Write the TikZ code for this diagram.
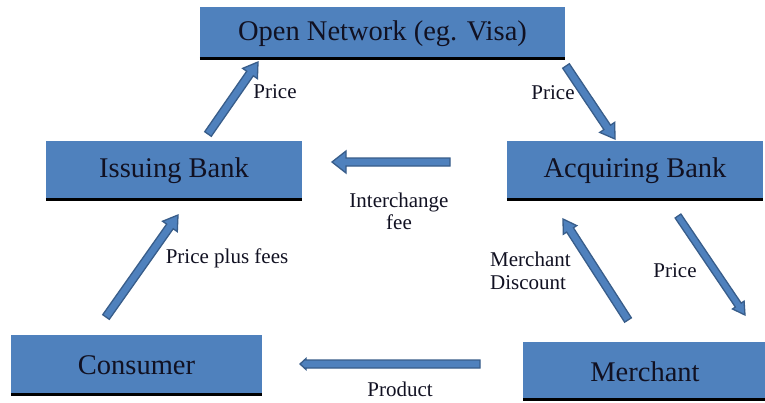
\documentclass[tikz,border=0pt]{standalone}
\usepackage{fontspec}
\setmainfont{Liberation Serif}
\usetikzlibrary{calc}
\definecolor{boxblue}{HTML}{4F81BD}
\definecolor{arrowedge}{HTML}{385D8A}
\definecolor{txt}{HTML}{111122}
\tikzset{
  box/.style={rectangle, fill=boxblue, inner sep=0pt, text=txt,
    font=\fontsize{28.5}{32}\selectfont},
  lbl/.style={text=txt, inner sep=0pt, font=\fontsize{21}{24}\selectfont},
  arrowbody/.style={fill=boxblue, draw=arrowedge, line width=1.3pt, line join=miter},
}
% #1 start, #2 end, #3 half shaft width, #4 half head width, #5 head length
\newcommand\blockarrow[5]{%
  \coordinate (ba-h) at ($(#2)!#5!(#1)$);
  \draw[arrowbody]
    ($(#1)!#3!90:(#2)$) -- ($(ba-h)!#3!-90:(#1)$) -- ($(ba-h)!#4!-90:(#1)$)
    -- (#2) -- ($(ba-h)!#4!90:(#1)$) -- ($(ba-h)!#3!90:(#1)$)
    -- ($(#1)!#3!-90:(#2)$) -- cycle;
}
\begin{document}
\begin{tikzpicture}[x=1pt,y=-1pt]
\useasboundingbox (0,0) rectangle (765,402);
\fill[white] (0,0) rectangle (765,402);
% boxes
\node[box, minimum width=365pt, minimum height=53pt] (open) at (382.5,33.5) {Open Network (eg. Visa)};
\node[box, minimum width=256pt, minimum height=60pt] (issuing) at (174,171) {Issuing Bank};
\node[box, minimum width=256pt, minimum height=60pt] (acquiring) at (635,171) {Acquiring Bank};
\node[box, minimum width=251pt, minimum height=61pt] (consumer) at (136.5,365.5) {Consumer};
\node[box, minimum width=244pt, minimum height=59pt] (merchant) at (645,371.5) {Merchant};
\foreach \n in {open,issuing,acquiring,consumer,merchant}
  \draw[black, line width=3pt] ([yshift=1.5pt]\n.south west) -- ([yshift=1.5pt]\n.south east);
% arrow end points
\coordinate (a1s) at (208,134);
\coordinate (a1e) at (258,62);
\coordinate (a2s) at (566,66);
\coordinate (a2e) at (615,139);
\coordinate (a3s) at (450,162);
\coordinate (a3e) at (332,162);
\coordinate (a4s) at (106,317);
\coordinate (a4e) at (178,215);
\coordinate (a5s) at (628,320);
\coordinate (a5e) at (563,219);
\coordinate (a6s) at (678,216);
\coordinate (a6e) at (745,315);
\coordinate (a7s) at (480,364);
\coordinate (a7e) at (300,364);
\blockarrow{a1s}{a1e}{4pt}{9pt}{14pt}
\blockarrow{a2s}{a2e}{4pt}{9pt}{14pt}
\blockarrow{a3s}{a3e}{4pt}{11pt}{14pt}
\blockarrow{a4s}{a4e}{4pt}{9pt}{14pt}
\blockarrow{a5s}{a5e}{4pt}{8pt}{13pt}
\blockarrow{a6s}{a6e}{3.5pt}{7pt}{12pt}
\blockarrow{a7s}{a7e}{4pt}{5.5pt}{6pt}
% labels
\node[lbl] (l1) at (275,92) {Price};
\node[lbl] (l2) at (553,93) {Price};
\node[lbl] (l3) at (399,202) {Interchange};
\node[lbl] (l3b) at (399,222) {fee};
\node[lbl] (l4) at (227,258) {Price plus fees};
\node[lbl, anchor=west] (l5) at (490,259) {Merchant};
\node[lbl, anchor=west] (l5b) at (490,283) {Discount};
\node[lbl] (l6) at (675,271) {Price};
\node[lbl] (l7) at (400,389) {Product};
\end{tikzpicture}
\end{document}
